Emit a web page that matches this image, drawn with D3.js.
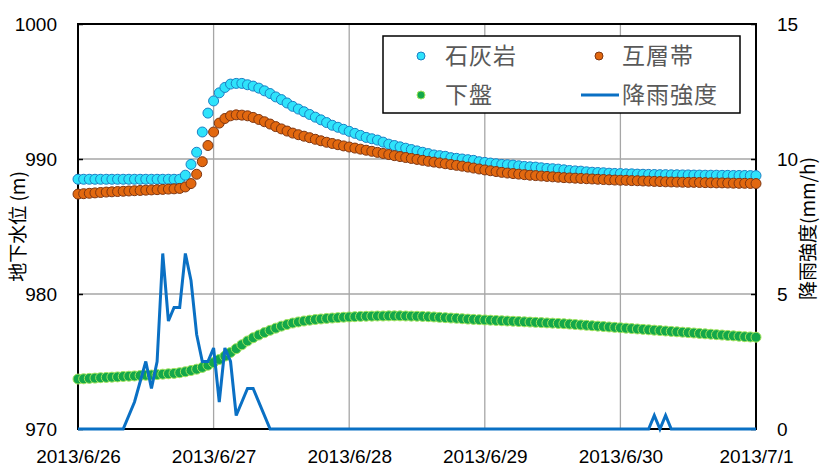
<!DOCTYPE html>
<html>
<head>
<meta charset="utf-8">
<script src="https://cdn.jsdelivr.net/npm/d3@7"></script>
<style>
  html, body { margin: 0; padding: 0; background: #fff; }
  svg { display: block; }
  .tick text { font-family: "Liberation Sans", Arial, sans-serif; font-size: 19px; fill: #000; }
</style>
</head>
<body>
<svg id="chart" width="820" height="466"></svg>
<script>
// Hourly groundwater levels (m) from 2013/6/26 00:00 to 2013/7/1 00:00
const hours = d3.range(0, 121);

const limestone = [
  988.5, 988.5, 988.5, 988.5, 988.5, 988.5, 988.5, 988.5, 988.5, 988.5,
  988.5, 988.5, 988.5, 988.5, 988.5, 988.5, 988.5, 988.5, 988.5, 988.8,
  989.6, 990.5, 992.0, 993.4, 994.3, 994.9, 995.3, 995.55, 995.6, 995.6,
  995.5, 995.4, 995.25, 995.05, 994.85, 994.6, 994.4, 994.15, 993.9, 993.7,
  993.5, 993.3, 993.1, 992.9, 992.7, 992.5, 992.35, 992.2, 992.05, 991.9,
  991.75, 991.6, 991.5, 991.4, 991.25, 991.1, 991.0, 990.9, 990.8, 990.7,
  990.6, 990.5, 990.4, 990.3, 990.25, 990.2, 990.1, 990.05, 990.0, 989.95,
  989.9, 989.8, 989.75, 989.7, 989.65, 989.6, 989.58, 989.55, 989.5, 989.45,
  989.42, 989.4, 989.35, 989.3, 989.28, 989.25, 989.2, 989.15, 989.12, 989.1,
  989.05, 989.02, 989.0, 988.98, 988.95, 988.93, 988.92, 988.9, 988.9, 988.88,
  988.87, 988.86, 988.85, 988.84, 988.84, 988.83, 988.83, 988.82, 988.82, 988.81,
  988.81, 988.8, 988.8, 988.8, 988.79, 988.79, 988.78, 988.78, 988.78, 988.77,
  988.77
];

const alternation = [
  987.4, 987.43, 987.46, 987.49, 987.52, 987.55, 987.57, 987.59, 987.61, 987.63,
  987.65, 987.67, 987.69, 987.71, 987.73, 987.75, 987.77, 987.79, 987.82, 987.93,
  988.18, 988.87, 989.8, 991.0, 992.0, 992.66, 993.0, 993.2, 993.27, 993.25,
  993.2, 993.08, 992.93, 992.76, 992.59, 992.4, 992.23, 992.07, 991.92, 991.8,
  991.69, 991.58, 991.46, 991.35, 991.24, 991.15, 991.06, 990.97, 990.89, 990.81,
  990.73, 990.65, 990.57, 990.49, 990.41, 990.33, 990.25, 990.18, 990.11, 990.04,
  989.97, 989.9, 989.83, 989.77, 989.71, 989.65, 989.59, 989.53, 989.47, 989.4,
  989.33, 989.26, 989.19, 989.13, 989.07, 989.01, 988.96, 988.92, 988.88, 988.84,
  988.8, 988.77, 988.74, 988.71, 988.68, 988.65, 988.62, 988.6, 988.58, 988.56,
  988.54, 988.52, 988.5, 988.48, 988.46, 988.44, 988.43, 988.42, 988.4, 988.39,
  988.37, 988.36, 988.34, 988.33, 988.31, 988.3, 988.29, 988.28, 988.27, 988.27,
  988.26, 988.25, 988.24, 988.23, 988.23, 988.22, 988.21, 988.2, 988.2, 988.19,
  988.18
];

const footwall = [
  973.7, 973.72, 973.75, 973.77, 973.8, 973.82, 973.84, 973.86, 973.89, 973.91,
  973.93, 973.96, 973.98, 974.0, 974.03, 974.06, 974.09, 974.12, 974.17, 974.24,
  974.33, 974.43, 974.56, 974.72, 974.92, 975.15, 975.4, 975.67, 975.95, 976.24,
  976.52, 976.76, 976.96, 977.14, 977.31, 977.47, 977.62, 977.74, 977.85, 977.93,
  978.0, 978.06, 978.11, 978.15, 978.19, 978.22, 978.25, 978.28, 978.3, 978.32,
  978.34, 978.35, 978.36, 978.37, 978.37, 978.38, 978.38, 978.38, 978.37, 978.36,
  978.35, 978.34, 978.32, 978.3, 978.27, 978.25, 978.22, 978.2, 978.17, 978.14,
  978.12, 978.1, 978.08, 978.06, 978.04, 978.02, 978.0, 977.98, 977.96, 977.94,
  977.92, 977.9, 977.88, 977.86, 977.84, 977.82, 977.8, 977.77, 977.74, 977.71,
  977.68, 977.65, 977.62, 977.59, 977.56, 977.53, 977.5, 977.47, 977.44, 977.41,
  977.38, 977.35, 977.32, 977.29, 977.26, 977.23, 977.2, 977.17, 977.14, 977.11,
  977.08, 977.05, 977.02, 976.99, 976.96, 976.93, 976.9, 976.87, 976.84, 976.82,
  976.8
];

// Rainfall intensity (mm/h): hour of record and intensity
const rainHours  = [0, 8, 10, 12, 13, 14, 15, 16, 17, 18, 19, 20, 21, 22, 23, 24, 25, 26, 27, 28, 30, 31, 34, 101, 102, 103, 104, 105, 120];
const rainValues = [0, 0, 1.0, 2.5, 1.5, 2.5, 6.5, 4.0, 4.5, 4.5, 6.5, 5.5, 3.5, 2.5, 2.5, 3.0, 1.0, 3.0, 2.5, 0.5, 1.5, 1.5, 0, 0, 0.5, 0, 0.5, 0, 0];

const dateLabels = ["2013/6/26", "2013/6/27", "2013/6/28", "2013/6/29", "2013/6/30", "2013/7/1"];
const levelTicks = [970, 980, 990, 1000];
const rainTicks = [0, 5, 10, 15];

const seriesNames = ["石灰岩", "互層帯", "下盤", "降雨強度"];

const svg = d3.select("#chart");
const L = 78, R = 756, T = 24, B = 429;

const x = d3.scaleLinear().domain([0, 120]).range([L, R]);
const y = d3.scaleLinear().domain([970, 1000]).range([B, T]);
const yr = d3.scaleLinear().domain([0, 15]).range([B, T]);

// gridlines
const grid = svg.append("g");
grid.selectAll("line.v").data(d3.range(1, 5)).join("line")
  .attr("x1", d => x(d * 24)).attr("x2", d => x(d * 24))
  .attr("y1", T).attr("y2", B)
  .attr("stroke", "#a6a6a6").attr("stroke-width", 1.3);
grid.selectAll("line.h").data([980, 990]).join("line")
  .attr("x1", L).attr("x2", R)
  .attr("y1", d => y(d)).attr("y2", d => y(d))
  .attr("stroke", "#a6a6a6").attr("stroke-width", 1.3);

// axes
const axL = d3.axisLeft(y).tickValues(levelTicks).tickFormat(d3.format("d"))
  .tickSizeInner(-5).tickSizeOuter(0).tickPadding(21);
svg.append("g").attr("transform", `translate(${L},0)`).call(axL)
  .call(g => g.select(".domain").remove())
  .call(g => g.selectAll(".tick line").attr("stroke", "#000").attr("stroke-width", 1.5));

const axR = d3.axisRight(yr).tickValues(rainTicks).tickFormat(d3.format("d"))
  .tickSizeInner(-5).tickSizeOuter(0).tickPadding(21);
svg.append("g").attr("transform", `translate(${R},0)`).call(axR)
  .call(g => g.select(".domain").remove())
  .call(g => g.selectAll(".tick line").attr("stroke", "#000").attr("stroke-width", 1.5));

const axB = d3.axisBottom(x).tickValues(d3.range(0, 121, 24))
  .tickFormat((d, i) => dateLabels[i]).tickSize(0).tickPadding(21);
svg.append("g").attr("transform", `translate(0,${B})`).call(axB)
  .call(g => g.select(".domain").remove());

// frame
svg.append("rect").attr("x", L).attr("y", T).attr("width", R - L).attr("height", B - T)
  .attr("fill", "none").attr("stroke", "#000").attr("stroke-width", 2);

// axis titles
svg.append("text")
  .attr("transform", `translate(25,${(T + B) / 2}) rotate(-90)`)
  .attr("text-anchor", "middle")
  .style("font-family", "'Noto Sans CJK JP', 'Liberation Sans', sans-serif")
  .style("font-size", "19px").attr("fill", "#000")
  .text("地下水位 (m)");
svg.append("text")
  .attr("transform", `translate(815,${(T + B) / 2 + 2}) rotate(-90)`)
  .attr("text-anchor", "middle")
  .style("font-family", "'Noto Sans CJK JP', 'Liberation Sans', sans-serif")
  .style("font-size", "19px").attr("fill", "#000")
  .text("降雨強度(mm/h)");

// groundwater series
const styles = [
  { data: limestone,   fill: "#2ee3fb", stroke: "#1c7fc4" },
  { data: alternation, fill: "#e2680f", stroke: "#7e3612" },
  { data: footwall,    fill: "#13a84a", stroke: "#a2e45c" }
];
styles.forEach(s => {
  svg.append("g").selectAll("circle").data(hours).join("circle")
    .attr("cx", d => x(d)).attr("cy", d => y(s.data[d])).attr("r", 5)
    .attr("fill", s.fill).attr("stroke", s.stroke).attr("stroke-width", 1);
});

// rainfall intensity line
const rainLine = d3.line().x((d, i) => x(rainHours[i])).y(d => yr(d));
svg.append("path").datum(rainValues).attr("d", rainLine)
  .attr("fill", "none").attr("stroke", "#0a70c4").attr("stroke-width", 3)
  .attr("stroke-linejoin", "miter");

// legend
const lg = svg.append("g");
lg.append("rect").attr("x", 383).attr("y", 36).attr("width", 357).attr("height", 77)
  .attr("fill", "#fff").attr("stroke", "#000").attr("stroke-width", 1.5);
const items = [
  { name: seriesNames[0], mx: 421, my: 56, tx: 445, st: styles[0] },
  { name: seriesNames[1], mx: 599, my: 56, tx: 622, st: styles[1] },
  { name: seriesNames[2], mx: 421, my: 95, tx: 445, st: styles[2] },
  { name: seriesNames[3], mx: 600, my: 95, tx: 622, st: null }
];
items.forEach(it => {
  if (it.st) {
    lg.append("circle").attr("cx", it.mx).attr("cy", it.my).attr("r", 4)
      .attr("fill", it.st.fill).attr("stroke", it.st.stroke).attr("stroke-width", 1);
  } else {
    lg.append("line").attr("x1", 581).attr("x2", 619).attr("y1", it.my).attr("y2", it.my)
      .attr("stroke", "#0a70c4").attr("stroke-width", 3);
  }
  lg.append("text").attr("x", it.tx).attr("y", it.my).attr("dy", "0.36em")
    .style("font-family", "'Noto Sans CJK JP', sans-serif")
    .style("font-size", "23px").style("letter-spacing", "1px")
    .attr("fill", "#595959").text(it.name);
});
</script>
</body>
</html>
